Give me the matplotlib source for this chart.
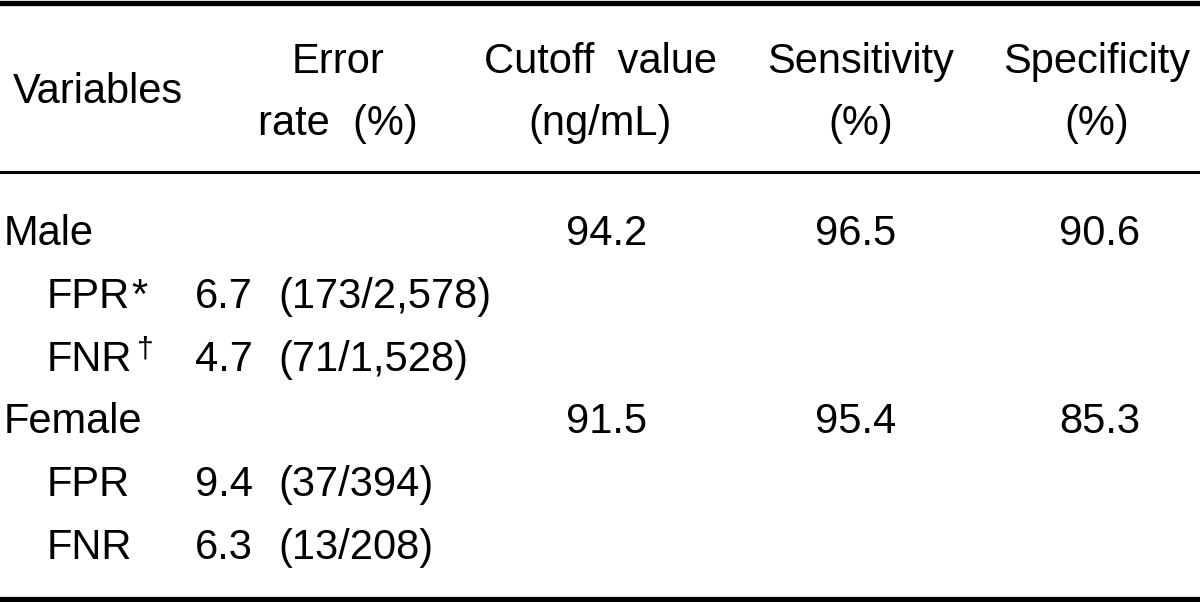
import matplotlib.pyplot as plt
from matplotlib import font_manager

names = {f.name for f in font_manager.fontManager.ttflist}
if 'Liberation Sans Narrow' in names:
    main_font, fs = 'Liberation Sans Narrow', 34
else:
    main_font, fs = 'Liberation Sans', 30
plt.rcParams['font.family'] = [main_font, 'DejaVu Sans']

# header texts (two lines each)
headers = ['Variables', 'Error\nrate  (%)', 'Cutoff  value\n(ng/mL)', 'Sensitivity\n(%)', 'Specificity\n(%)']
header_x = [13, 338, 600, 861, 1097]

# group rows
groups = ['Male', 'Female']
cutoff = ['94.2', '91.5']
sensitivity = ['96.5', '95.4']
specificity = ['90.6', '85.3']

# sub rows
sub_labels = [['FPR', 'FNR'], ['FPR', 'FNR']]
sub_marks = [['*', '\u2020'], ['', '']]
error_rate = [['6.7', '4.7'], ['9.4', '6.3']]
error_counts = [['(173/2,578)', '(71/1,528)'], ['(37/394)', '(13/208)']]

fig = plt.figure(figsize=(12, 6.02), dpi=100)
ax = fig.add_axes([0, 0, 1, 1])
ax.set_xlim(0, 1200)
ax.set_ylim(602, 0)
ax.axis('off')
renderer = fig.canvas.get_renderer()

# rules
ax.axhline(2.5, color='black', lw=3.8)
ax.axhline(172, color='black', lw=2.2)
ax.axhline(598.5, color='black', lw=3.8)

half_cap = 15  # text is placed on its baseline, centred on cap height

# header
ax.text(header_x[0], 88 + half_cap, headers[0], fontsize=fs, ha='left', va='baseline')
for h, x in zip(headers[1:], header_x[1:]):
    l1, l2 = h.split('\n')
    ax.text(x, 58 + half_cap, l1, fontsize=fs, ha='center', va='baseline')
    ax.text(x, 120 + half_cap, l2, fontsize=fs, ha='center', va='baseline')

# body
val_x = [607, 856, 1100]
y = 230 + half_cap
step = 62.8
for g in range(len(groups)):
    ax.text(4, y, groups[g], fontsize=fs, ha='left', va='baseline')
    ax.text(val_x[0], y, cutoff[g], fontsize=fs, ha='center', va='baseline')
    ax.text(val_x[1], y, sensitivity[g], fontsize=fs, ha='center', va='baseline')
    ax.text(val_x[2], y, specificity[g], fontsize=fs, ha='center', va='baseline')
    y += step
    for i in range(len(sub_labels[g])):
        t = ax.text(47, y, sub_labels[g][i], fontsize=fs, ha='left', va='baseline')
        mark = sub_marks[g][i]
        if mark:
            # place the footnote mark right after the label
            bb = t.get_window_extent(renderer)
            x_end = ax.transData.inverted().transform((bb.x1, bb.y0))[0]
            if mark == '*':
                ax.text(x_end + 1, y, mark, fontsize=fs, ha='left', va='baseline')
            else:
                ax.text(x_end + 4, y - 13, mark, fontsize=fs * 0.72, ha='left', va='baseline')
        ax.text(195, y, error_rate[g][i], fontsize=fs, ha='left', va='baseline')
        ax.text(278, y, error_counts[g][i], fontsize=fs, ha='left', va='baseline')
        y += step

fig.savefig('out.png', dpi=100)
